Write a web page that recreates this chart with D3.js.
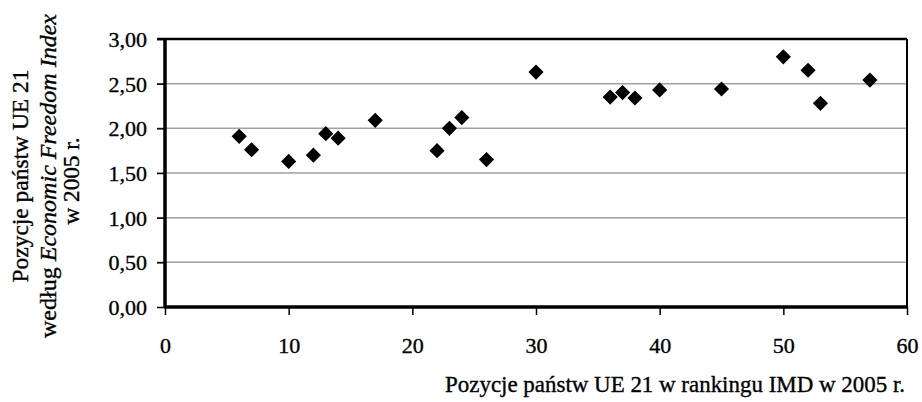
<!DOCTYPE html>
<html>
<head>
<meta charset="utf-8">
<title>IMD vs Economic Freedom Index</title>
<script src="https://cdn.jsdelivr.net/npm/d3@7"></script>
<style>
  body { margin: 0; background: #fff; }
  text { font-family: "Liberation Serif", "Times New Roman", serif; fill: #000; stroke: #000; stroke-width: 0.35px; }
</style>
</head>
<body>
<div id="chart"></div>
<script>
  // pozycje w rankingu IMD 2005 (oś X) i wartości EFI (oś Y)
  var imdRank = [6, 7, 10, 12, 13, 14, 17, 22, 23, 24, 26, 30, 36, 37, 38, 40, 45, 50, 52, 53, 57];
  var efiValue = [1.91, 1.76, 1.63, 1.70, 1.94, 1.89, 2.09, 1.75, 2.00, 2.12, 1.65, 2.63, 2.35, 2.40, 2.34, 2.43, 2.44, 2.80, 2.65, 2.28, 2.54];
  var xTicks = [0, 10, 20, 30, 40, 50, 60];
  var yTicks = [0, 0.5, 1, 1.5, 2, 2.5, 3];

  var width = 922, height = 402;
  var pLeft = 165, pRight = 907, pTop = 39, pBottom = 307;

  var svg = d3.select("#chart").append("svg")
    .attr("width", width)
    .attr("height", height);

  var x = d3.scaleLinear().domain([0, 60]).range([pLeft, pRight]);
  var y = d3.scaleLinear().domain([0, 3]).range([pBottom, pTop]);
  var fmt = function(d) { return d3.format(".2f")(d).replace(".", ","); };

  // gridlines
  svg.append("g").selectAll("line").data(yTicks.slice(1, -1)).enter().append("line")
    .attr("x1", pLeft - 8).attr("x2", pRight)
    .attr("y1", function(d) { return y(d); })
    .attr("y2", function(d) { return y(d); })
    .style("stroke", "#a0a0a0")
    .style("stroke-width", 1.5);

  // frame (top, right)
  svg.append("line").attr("x1", pLeft - 8).attr("x2", pRight).attr("y1", pTop).attr("y2", pTop)
    .style("stroke", "#000").style("stroke-width", 2.5);
  svg.append("line").attr("x1", pRight).attr("x2", pRight).attr("y1", pTop).attr("y2", pBottom)
    .style("stroke", "#000").style("stroke-width", 2);

  // axes
  var yAxis = svg.append("g")
    .attr("transform", "translate(" + pLeft + ",0)")
    .call(d3.axisLeft(y).tickValues(yTicks).tickFormat(fmt).tickSize(8));
  var xAxis = svg.append("g")
    .attr("transform", "translate(0," + pBottom + ")")
    .call(d3.axisBottom(x).tickValues(xTicks).tickSize(8));

  [yAxis, xAxis].forEach(function(g) {
    g.select(".domain").style("stroke", "#000").style("stroke-width", 3.5);
    g.selectAll(".tick line").style("stroke", "#000").style("stroke-width", 1.5);
    g.selectAll(".tick text").style("font-size", "22px").style("font-family", '"Liberation Serif", serif');
  });
  yAxis.select(".domain").attr("d", "M0," + (pTop - 1) + "V" + (pBottom + 1));
  xAxis.select(".domain").attr("d", "M" + (pLeft - 1) + ",0H" + pRight);
  yAxis.selectAll(".tick text").attr("x", -18).attr("dy", "0.34em");
  xAxis.selectAll(".tick text").attr("y", 46).attr("dy", 0);

  // points
  var diamond = d3.symbol().type(d3.symbolSquare).size(115);
  svg.append("g").selectAll("path").data(imdRank).enter().append("path")
    .attr("d", diamond)
    .attr("transform", function(d, i) {
      return "translate(" + x(d) + "," + y(efiValue[i]) + ") rotate(45)";
    })
    .style("fill", "#000");

  // x title
  svg.append("text")
    .attr("x", pRight - 2)
    .attr("y", 392)
    .attr("text-anchor", "end")
    .attr("textLength", 460)
    .attr("lengthAdjust", "spacingAndGlyphs")
    .style("font-size", "23px")
    .text("Pozycje państw UE 21 w rankingu IMD w 2005 r.");

  // y title (three lines)
  var yt = svg.append("g").attr("transform", "translate(0,176) rotate(-90)");
  yt.append("text").attr("x", 0).attr("y", 28)
    .attr("text-anchor", "middle").attr("textLength", 213).attr("lengthAdjust", "spacingAndGlyphs")
    .style("font-size", "23px")
    .text("Pozycje państw UE 21");
  var l2 = yt.append("text").attr("x", 0).attr("y", 56)
    .attr("text-anchor", "middle").attr("textLength", 324).attr("lengthAdjust", "spacingAndGlyphs")
    .style("font-size", "23px");
  l2.append("tspan").text("według ");
  l2.append("tspan").style("font-style", "italic").text("Economic Freedom Index");
  yt.append("text").attr("x", -5).attr("y", 79)
    .attr("text-anchor", "middle").attr("textLength", 87).attr("lengthAdjust", "spacingAndGlyphs")
    .style("font-size", "23px")
    .text("w 2005 r.");
</script>
</body>
</html>
